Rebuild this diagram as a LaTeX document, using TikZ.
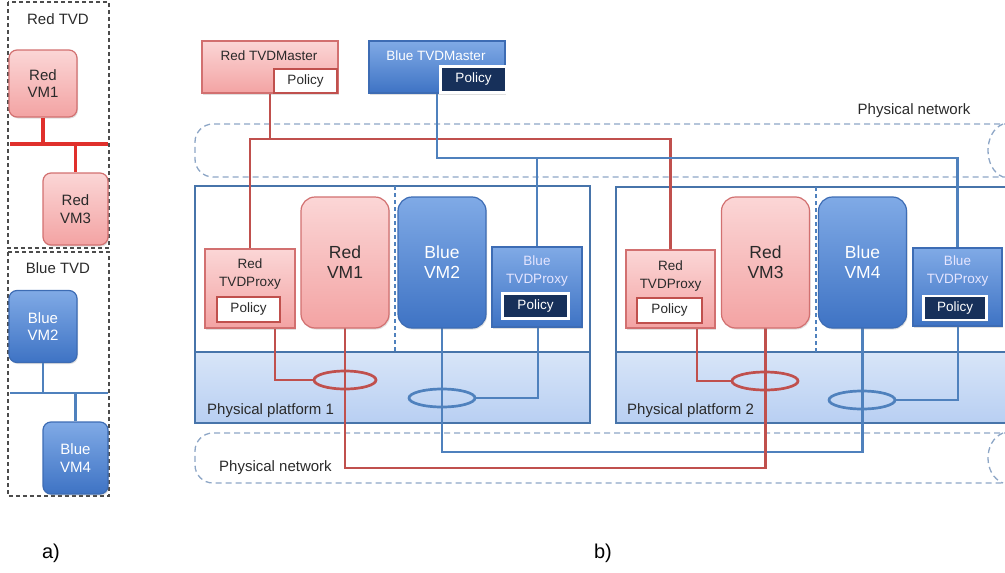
\documentclass[tikz,border=0pt]{standalone}
\usepackage{fontspec}
\setmainfont{Liberation Sans}
\usetikzlibrary{shadows,shapes.geometric}
\definecolor{rline}{HTML}{C0504D}
\definecolor{bline}{HTML}{4F81BD}
\definecolor{rtop}{HTML}{FBD6D6}
\definecolor{rbot}{HTML}{F3A3A3}
\definecolor{rborder}{HTML}{D27070}
\definecolor{btop}{HTML}{80AAE6}
\definecolor{bbot}{HTML}{3E73C4}
\definecolor{bborder}{HTML}{3D6CB4}
\definecolor{navy}{HTML}{17305A}
\definecolor{ptop}{HTML}{D8E5F8}
\definecolor{pbot}{HTML}{B8CFF2}
\definecolor{netc}{HTML}{8DA6C6}
\definecolor{rbar}{HTML}{E0302C}
\definecolor{rtext}{HTML}{2A2A2A}
\begin{document}
\begin{tikzpicture}[x=1pt,y=-1pt,
  shadowed/.style={drop shadow={opacity=0.25,shadow xshift=1pt,shadow yshift=-1.5pt}},
  redbox/.style={draw=rborder,line width=1.2pt,top color=rtop,bottom color=rbot,inner sep=0,shadowed},
  bluebox/.style={draw=bborder,line width=1.2pt,top color=btop,bottom color=bbot,inner sep=0,shadowed},
  vmbox/.style={rounded corners=14pt,minimum width=88pt,minimum height=131pt,
    font=\fontsize{17.5}{20}\selectfont,align=center},
  smallvm/.style={rounded corners=8pt,font=\fontsize{15}{17.5}\selectfont,align=center},
  rpolicy/.style={draw=rline,line width=2.2pt,fill=white,inner sep=0,
    font=\fontsize{13.5}{15}\selectfont,text=rtext},
  bpolicy/.style={draw=white,line width=2.6pt,fill=navy,inner sep=0,
    font=\fontsize{13.5}{15}\selectfont,text=white,shadowed},
  lbl/.style={font=\fontsize{13.5}{15}\selectfont,inner sep=0},
  biglbl/.style={font=\fontsize{15}{17}\selectfont,inner sep=0},
  proxytext/.style={inner sep=0,align=center,font=\fontsize{13.5}{18}\selectfont},
  rl/.style={draw=rline,line width=2.9pt},
  bl/.style={draw=bline,line width=2.9pt},
  net/.style={draw=netc,line width=1.3pt,dash pattern=on 6pt off 4pt},
  plat/.style={draw=bline!90!black,line width=1.4pt},
  tvd/.style={draw=black!70,line width=1.3pt,dash pattern=on 4pt off 3pt},
  ring/.style={ellipse,inner sep=0,minimum height=18pt}
]
\useasboundingbox (0,0) rectangle (1005,573);
\clip (0,0) rectangle (1005,573);

% ---------- panel a ----------
\draw[tvd] (8,2) rectangle (109,248);
\draw[tvd] (8,252) rectangle (109,496);
\node[biglbl,text=rtext] (redtvd) at (58,19) {Red TVD};
\node[biglbl,text=rtext] (bluetvd) at (58,268) {Blue TVD};
\coordinate (rb) at (0,144);
\coordinate (bb) at (0,393);
\node[redbox,smallvm,minimum width=68pt,minimum height=67pt,text=rtext] (avm1) at (43,83.5) {Red\\VM1};
\node[redbox,smallvm,minimum width=65pt,minimum height=72pt,text=rtext] (avm3) at (75.5,209) {Red\\VM3};
\node[bluebox,smallvm,minimum width=68pt,minimum height=72pt,text=white] (avm2) at (43,326.5) {Blue\\VM2};
\node[bluebox,smallvm,minimum width=65pt,minimum height=72pt,text=white] (avm4) at (75.5,458) {Blue\\VM4};
\draw[draw=rbar,line width=3.2pt] (10,144) -- (108,144);
\draw[draw=rbar,line width=3.2pt] (avm1.south) -- (avm1.south |- rb);
\draw[draw=rbar,line width=3.2pt] (avm3.north |- rb) -- (avm3.north);
\draw[draw=bline,line width=2.9pt] (10,393) -- (108,393);
\draw[draw=bline,line width=2.9pt] (avm2.south) -- (avm2.south |- bb);
\draw[draw=bline,line width=2.9pt] (avm4.north |- bb) -- (avm4.north);

% ---------- panel b: networks ----------
\draw[net,rounded corners=18pt] (1010,124) -- (195,124) -- (195,177) -- (1010,177);
\draw[net] (1003,124) .. controls (983,132) and (983,169) .. (1003,177);
\draw[net,rounded corners=18pt] (1010,433) -- (195,433) -- (195,483) -- (1010,483);
\draw[net] (1003,433) .. controls (983,441) and (983,475) .. (1003,483);
\node[biglbl,text=rtext] (nettop) at (914,111) {Physical network};
\node[biglbl,text=rtext,anchor=west] (netbot) at (219,468) {Physical network};

% ---------- platforms ----------
\draw[plat,fill=white] (195,186) rectangle (590,423);
\draw[plat,top color=ptop,bottom color=pbot] (195,352) rectangle (590,423);
\draw[draw=bline,line width=1.1pt,dash pattern=on 4pt off 3pt] (395,186) -- (395,352);
\node[biglbl,text=rtext,anchor=west] (pp1) at (207,411) {Physical platform 1};
\draw[plat,fill=white] (616,187) rectangle (1015,423);
\draw[plat,top color=ptop,bottom color=pbot] (616,352) rectangle (1015,423);
\draw[draw=bline,line width=1.1pt,dash pattern=on 4pt off 3pt] (816,187) -- (816,352);
\node[biglbl,text=rtext,anchor=west] (pp2) at (627,411) {Physical platform 2};

% ---------- node coordinates ----------
\coordinate (rbus) at (0,139);
\coordinate (bbus) at (0,158);
\coordinate (rlow) at (0,468);
\coordinate (blow) at (0,452);

\path (270,67) node[minimum width=136pt,minimum height=52pt,inner sep=0] (rmaster) {};
\path (437,67) node[minimum width=136pt,minimum height=52pt,inner sep=0] (bmaster) {};
\path (250,288.5) node[minimum width=90pt,minimum height=79pt,inner sep=0] (rproxy1) {};
\path (537,287) node[minimum width=90pt,minimum height=80pt,inner sep=0] (bproxy1) {};
\path (670.5,289) node[minimum width=89pt,minimum height=78pt,inner sep=0] (rproxy2) {};
\path (957.5,287) node[minimum width=89pt,minimum height=78pt,inner sep=0] (bproxy2) {};
\path (345,262.5) node[vmbox,inner sep=0] (rvm1) {};
\path (442,262.5) node[vmbox,inner sep=0] (bvm2) {};
\path (765.5,262.5) node[vmbox,inner sep=0] (rvm3) {};
\path (862.5,262.5) node[vmbox,inner sep=0] (bvm4) {};
\node[ring,minimum width=62pt] (rell1) at (345,380) {};
\node[ring,minimum width=66pt] (bell1) at (442,398) {};
\node[ring,minimum width=66pt] (rell2) at (765,381) {};
\node[ring,minimum width=66pt] (bell2) at (862,400) {};

% ---------- connectors ----------
\draw[rl] (rmaster.south) -- (rmaster.south |- rbus);
\draw[rl] (rproxy1.north) -- (rproxy1.north |- rbus) -- (rproxy2.north |- rbus) -- (rproxy2.north);
\draw[bl] (bmaster.south) -- (bmaster.south |- bbus) -- (bproxy2.north |- bbus) -- (bproxy2.north);
\draw[bl] (bproxy1.north) -- (bproxy1.north |- bbus);
\draw[rl] (rproxy1.south) ++(25,0) |- (rell1.west);
\draw[rl] (rproxy2.south) ++(26.5,0) |- (rell2.west);
\draw[bl] (bproxy1.south) ++(1,0) |- (bell1.east);
\draw[bl] (bproxy2.south) ++(0.5,0) |- (bell2.east);
\draw[bl] (bvm2.south) -- (bvm2.south |- blow) -| (bvm4.south);
\draw[rl] (rvm1.south) -- (rvm1.south |- rlow) -| (rvm3.south);
\draw[draw=rline,line width=2.7pt] (rell1.center) ellipse [x radius=31pt,y radius=9pt];
\draw[draw=bline,line width=2.7pt] (bell1.center) ellipse [x radius=33pt,y radius=9pt];
\draw[draw=rline,line width=2.7pt] (rell2.center) ellipse [x radius=33pt,y radius=9pt];
\draw[draw=bline,line width=2.7pt] (bell2.center) ellipse [x radius=33pt,y radius=9pt];

% ---------- masters ----------
\node[redbox,minimum width=136pt,minimum height=52pt] (rmasterbox) at (rmaster) {};
\node[lbl,text=rtext] (rmastertext) at (269,56) {Red TVDMaster};
\node[rpolicy,minimum width=63pt,minimum height=24pt] (rmpol) at (305.5,81) {Policy};
\node[bluebox,minimum width=136pt,minimum height=52pt] (bmasterbox) at (bmaster) {};
\node[lbl,text=white] (bmastertext) at (436,56) {Blue TVDMaster};
\node[bpolicy,minimum width=66pt,minimum height=26pt] (bmpol) at (473.5,79.5) {Policy};

% ---------- proxies ----------
\node[redbox,minimum width=90pt,minimum height=79pt] (rproxy1box) at (rproxy1) {};
\node[proxytext,text=rtext] (rp1t) at (250,274.5) {Red\\TVDProxy};
\node[rpolicy,minimum width=63pt,minimum height=25pt] (rp1pol) at (248.5,309.5) {Policy};
\node[redbox,minimum width=89pt,minimum height=78pt] (rproxy2box) at (rproxy2) {};
\node[proxytext,text=rtext] (rp2t) at (670.5,276) {Red\\TVDProxy};
\node[rpolicy,minimum width=65pt,minimum height=25pt] (rp2pol) at (669.5,310.5) {Policy};
\node[bluebox,minimum width=90pt,minimum height=80pt] (bproxy1box) at (bproxy1) {};
\node[proxytext,text=white!90!blue] (bp1t) at (537,271) {Blue\\TVDProxy};
\node[bpolicy,minimum width=66pt,minimum height=25pt] (bp1pol) at (535.5,306) {Policy};
\node[bluebox,minimum width=89pt,minimum height=78pt] (bproxy2box) at (bproxy2) {};
\node[proxytext,text=white!90!blue] (bp2t) at (957.5,271) {Blue\\TVDProxy};
\node[bpolicy,minimum width=63pt,minimum height=24pt] (bp2pol) at (955,308) {Policy};

% ---------- VMs ----------
\node[redbox,vmbox,text=rtext] (rvm1box) at (rvm1) {Red\\VM1};
\node[bluebox,vmbox,text=white] (bvm2box) at (bvm2) {Blue\\VM2};
\node[redbox,vmbox,text=rtext] (rvm3box) at (rvm3) {Red\\VM3};
\node[bluebox,vmbox,text=white] (bvm4box) at (bvm4) {Blue\\VM4};

% ---------- captions ----------
\node[inner sep=0,font=\fontsize{20}{24}\selectfont] (capa) at (51,553) {a)};
\node[inner sep=0,font=\fontsize{20}{24}\selectfont] (capb) at (603,553) {b)};
\end{tikzpicture}
\end{document}
